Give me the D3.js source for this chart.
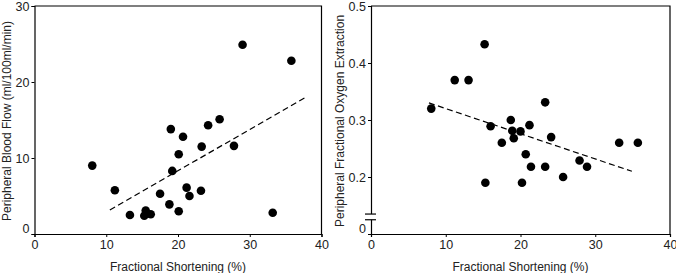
<!DOCTYPE html>
<html>
<head>
<meta charset="utf-8">
<script src="https://cdn.jsdelivr.net/npm/d3@7"></script>
<style>
  body { margin: 0; background: #fff; }
  svg text { font-family: "Liberation Sans", Arial, sans-serif; fill: #222; }
</style>
</head>
<body>
<div id="chart"></div>
<script>
// fractional shortening (%) vs peripheral blood flow
const flowFS = [8.05, 11.2, 13.3, 15.3, 15.5, 16.2, 17.5, 18.8, 19.0, 19.2, 20.1, 20.1, 20.7, 21.2, 21.6, 23.2, 23.3, 24.2, 25.8, 27.8, 29.0, 33.2, 35.8]
const flowVal = [9.0, 5.75, 2.5, 2.4, 3.1, 2.6, 5.3, 3.9, 13.8, 8.3, 10.5, 3.0, 12.8, 6.1, 5.0, 5.7, 11.5, 14.3, 15.1, 11.6, 24.9, 2.8, 22.8]
const flowFit = [[10.5, 3.16], [38.0, 18.1]]

// fractional shortening (%) vs oxygen extraction
const oxyFS = [8.06, 11.2, 13.05, 15.2, 15.3, 16.0, 17.5, 18.7, 18.9, 19.1, 20.0, 20.2, 20.7, 21.2, 21.4, 23.3, 23.3, 24.1, 25.7, 27.9, 28.9, 33.2, 35.7]
const oxyVal = [0.32, 0.37, 0.37, 0.433, 0.19, 0.289, 0.26, 0.30, 0.281, 0.268, 0.28, 0.19, 0.24, 0.291, 0.218, 0.218, 0.331, 0.27, 0.20, 0.229, 0.218, 0.26, 0.26]
const oxyFit = [[7.75, 0.330], [34.9, 0.21]]

const xTicks = [0, 10, 20, 30, 40]
const flowTicks = [0, 10, 20, 30]
const oxyTicks = [0.1, 0.2, 0.3, 0.4, 0.5]
const oxyTickLabels = ["0", "0.2", "0.3", "0.4", "0.5"]
const oxyBreak = [0.125, 0.135]

const width = 676, height = 273
const plotTop = 6, plotBottom = 234

const svg = d3.select("#chart").append("svg")
    .attr("width", width)
    .attr("height", height)

function panel(opts) {
    const x = d3.scaleLinear().domain([0, 40]).range([opts.left, opts.right])
    const y = d3.scaleLinear().domain(opts.yDomain).range([plotBottom, plotTop])
    const g = svg.append("g")

    // frame top + right
    g.append("path")
        .attr("d", `M${opts.left},${plotTop}H${opts.right}V${plotBottom}`)
        .attr("fill", "none").attr("stroke", "#000").attr("stroke-width", 1.2)

    const xa = g.append("g")
        .attr("transform", `translate(0,${plotBottom})`)
        .call(d3.axisBottom(x).tickValues(xTicks).tickSize(3).tickPadding(3.5).tickFormat(d3.format("d")))
    const ya = g.append("g")
        .attr("transform", `translate(${opts.left},0)`)
        .call(d3.axisLeft(y).tickValues(opts.yTicks).tickSize(3).tickPadding(2).tickFormat(opts.fmt))
    for (const a of [xa, ya]) {
        a.select(".domain").attr("stroke", "#000").attr("stroke-width", 1.2)
        a.selectAll(".tick line").attr("stroke", "#000")
        a.selectAll("text").attr("font-size", 12.5).attr("fill", "#222")
        a.attr("font-family", null)
    }
    // bottom y label sits a little above the corner
    ya.selectAll(".tick text").filter(d => d === opts.yTicks[0]).attr("dy", "-0.15em")

    if (opts.brk) {
        g.append("rect")
            .attr("x", opts.left - 2).attr("width", 4)
            .attr("y", y(opts.brk[1])).attr("height", y(opts.brk[0]) - y(opts.brk[1]))
            .attr("fill", "#fff")
        g.selectAll(".brk").data(opts.brk).enter().append("line")
            .attr("x1", opts.left - 6).attr("x2", opts.left + 5)
            .attr("y1", d => y(d)).attr("y2", d => y(d))
            .attr("stroke", "#000").attr("stroke-width", 1.2)
    }

    const line = d3.line().x(d => x(d[0])).y(d => y(d[1]))
    g.append("path")
        .datum(opts.fit)
        .attr("d", line)
        .attr("fill", "none").attr("stroke", "#000")
        .attr("stroke-width", 1.2).attr("stroke-dasharray", "6,3.5")

    g.selectAll("circle").data(opts.xs).enter().append("circle")
        .attr("cx", d => x(d))
        .attr("cy", (d, i) => y(opts.ys[i]))
        .attr("r", 4.3)
        .attr("fill", "#000")

    g.append("text")
        .attr("x", (opts.left + opts.right) / 2).attr("y", 267)
        .attr("text-anchor", "middle").attr("dominant-baseline", "central")
        .attr("font-size", 12)
        .text("Fractional Shortening (%)")
    g.append("text")
        .attr("transform", `translate(${opts.titleX},${(plotTop + plotBottom) / 2 + 1}) rotate(-90)`)
        .attr("text-anchor", "middle").attr("dominant-baseline", "central")
        .attr("font-size", 12)
        .text(opts.title)
}

panel({
    left: 34.5, right: 321.5, yDomain: [0, 30], yTicks: flowTicks,
    fmt: d3.format("d"), xs: flowFS, ys: flowVal, fit: flowFit,
    titleX: 7, title: "Peripheral Blood Flow (ml/100ml/min)"
})
panel({
    left: 371, right: 670, yDomain: [0.1, 0.5], yTicks: oxyTicks,
    fmt: (d, i) => oxyTickLabels[i], xs: oxyFS, ys: oxyVal, fit: oxyFit,
    brk: oxyBreak, titleX: 340, title: "Peripheral Fractional Oxygen Extraction"
})
</script>
</body>
</html>
